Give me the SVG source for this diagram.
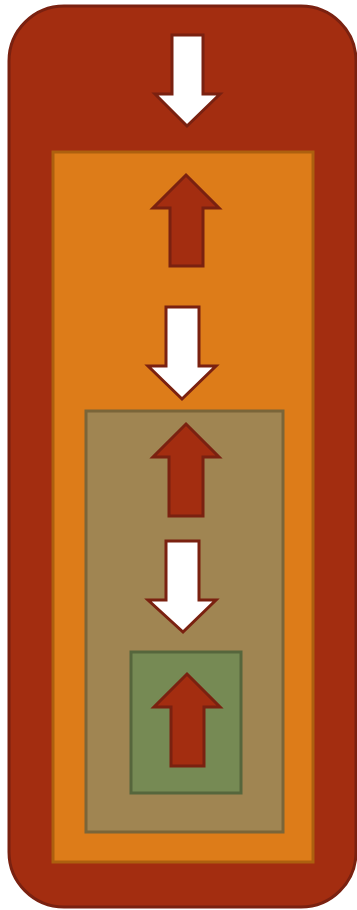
<svg xmlns="http://www.w3.org/2000/svg" width="357" height="910" viewBox="0 0 357 910">
  <style>
    .outer { fill: #A32D10; stroke: #7A2110; stroke-width: 3; }
    .layer2 { fill: #DD7C19; stroke: #AD600F; stroke-width: 3; }
    .layer3 { fill: #A08552; stroke: #7A6539; stroke-width: 3; }
    .layer4 { fill: #768A54; stroke: #56663C; stroke-width: 3; }
    .up { fill: #A32D10; stroke: #7A2110; stroke-width: 3; stroke-linejoin: miter; }
    .down { fill: #FFFFFF; stroke: #7A2110; stroke-width: 3; stroke-linejoin: miter; }
  </style>

  <g id="outer-layer">
    <rect class="outer" x="9" y="6" width="347" height="901" rx="55" ry="55"/>
  </g>
  <g id="layer-2">
    <rect class="layer2" x="53" y="152" width="260" height="710"/>
  </g>
  <g id="layer-3">
    <rect class="layer3" x="86" y="411" width="197" height="421"/>
  </g>
  <g id="layer-4">
    <rect class="layer4" x="131" y="652" width="110" height="141"/>
  </g>

  <g id="connectors">
    <!-- downward flows (white) -->
    <polygon class="down" points="172,35 203,35 203,94 220,94 187,126 155,94 172,94"/>
    <polygon class="down" points="166,307 199,307 199,366 216,366 182,399 148,366 166,366"/>
    <polygon class="down" points="166,541 199,541 199,600 216,600 183,632 148,600 166,600"/>
    <!-- upward flows (red) -->
    <polygon class="up" points="186,175 219,208 203,208 203,266 170,266 170,208 153,208"/>
    <polygon class="up" points="186,424 219,457 203,457 203,516 169,516 169,457 153,457"/>
    <polygon class="up" points="187,674 220,707 204,707 204,766 171,766 171,707 154,707"/>
  </g>
</svg>
